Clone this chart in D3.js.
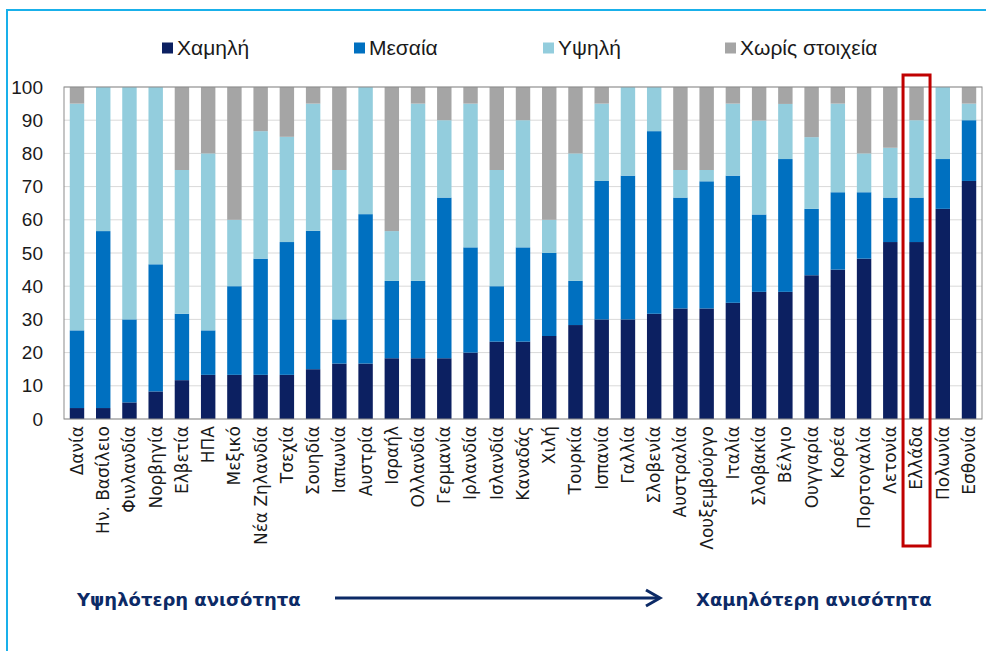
<!DOCTYPE html>
<html>
<head>
<meta charset="utf-8">
<script src="https://cdn.jsdelivr.net/npm/d3@7"></script>
<style>
  body { margin: 0; background: #fff; }
  svg { display: block; }
</style>
</head>
<body>
<div class="container"></div>
<script>
// categories
const countries = ["Δανία", "Ην. Βασίλειο", "Φινλανδία", "Νορβηγία", "Ελβετία", "ΗΠΑ", "Μεξικό",
  "Νέα Ζηλανδία", "Τσεχία", "Σουηδία", "Ιαπωνία", "Αυστρία", "Ισραήλ", "Ολλανδία", "Γερμανία",
  "Ιρλανδία", "Ισλανδία", "Καναδάς", "Χιλή", "Τουρκία", "Ισπανία", "Γαλλία", "Σλοβενία",
  "Αυστραλία", "Λουξεμβούργο", "Ιταλία", "Σλοβακία", "Βέλγιο", "Ουγγαρία", "Κορέα",
  "Πορτογαλία", "Λετονία", "Ελλάδα", "Πολωνία", "Εσθονία"];
// series values (% of each country)
const low = [3.3, 3.3, 5, 8.3, 11.7, 13.3, 13.3, 13.3, 13.3, 15, 16.7, 16.7, 18.3, 18.3, 18.3,
  20, 23.3, 23.3, 25, 28.3, 30, 30, 31.7, 33.3, 33.3, 35, 38.3, 38.3, 43.3, 45, 48.3, 53.3, 53.3, 63.3, 71.7];
const mid = [23.4, 53.3, 25, 38.3, 20, 13.4, 26.7, 35, 40, 41.7, 13.3, 45, 23.3, 23.3, 48.4,
  31.7, 16.7, 28.4, 25, 13.3, 41.7, 43.3, 55, 33.4, 38.3, 38.3, 23.3, 40, 20, 23.3, 20, 13.4, 13.4, 15, 18.3];
const high = [68.3, 43.4, 70, 53.4, 43.3, 53.3, 20, 38.4, 31.7, 38.3, 45, 38.3, 15, 53.4, 23.3,
  43.3, 35, 38.3, 10, 38.4, 23.3, 26.7, 13.3, 8.3, 3.4, 21.7, 28.3, 16.6, 21.6, 26.7, 11.7, 15, 23.3, 21.7, 5];
const noData = countries.map((c, i) => Math.max(0, +(100 - low[i] - mid[i] - high[i]).toFixed(1)));
const seriesNames = ["Χαμηλή", "Μεσαία", "Υψηλή", "Χωρίς στοιχεία"];
const seriesColors = ["#0c2061", "#0070c0", "#93cddd", "#a5a5a5"];
const yTicks = [0, 10, 20, 30, 40, 50, 60, 70, 80, 90, 100];
const highlight = "Ελλάδα";

const W = 986, H = 651;
const m = { left: 64, right: 4, top: 87, bottom: 232 };
const w = W - m.left - m.right, h = H - m.top - m.bottom;

const svg = d3.select(".container").append("svg")
  .attr("width", W).attr("height", H);

// outer frame
svg.append("path")
  .attr("d", `M7,${H + 2} V10 H${W + 2}`)
  .attr("fill", "none").attr("stroke", "#19b0ea").attr("stroke-width", 2);

const table = countries.map((c, i) => ({ c, low: low[i], mid: mid[i], high: high[i], none: noData[i] }));
const stack = d3.stack().keys(["low", "mid", "high", "none"])(table);

const x = d3.scaleBand().domain(countries).range([0, w]).paddingInner(0.45).paddingOuter(0.22);
const y = d3.scaleLinear().domain([0, 100]).range([h, 0]);

const g = svg.append("g").attr("transform", `translate(${m.left},${m.top})`);

// gridlines
g.append("g").selectAll("line").data(yTicks).join("line")
  .attr("x1", 0).attr("x2", w)
  .attr("y1", d => y(d)).attr("y2", d => y(d))
  .attr("stroke", "#d9d9d9").attr("stroke-width", 1);

// bars
g.append("g").selectAll("g").data(stack).join("g")
  .attr("fill", (d, i) => seriesColors[i])
  .selectAll("rect").data(d => d).join("rect")
  .attr("x", d => x(d.data.c))
  .attr("y", d => y(d[1]))
  .attr("width", x.bandwidth())
  .attr("height", d => Math.max(0, y(d[0]) - y(d[1])));

// plot frame
g.append("rect").attr("width", w).attr("height", h)
  .attr("fill", "none").attr("stroke", "#8c8c8c").attr("stroke-width", 1);

// y axis
const yAxis = g.append("g").call(d3.axisLeft(y).tickValues(yTicks).tickSize(0).tickPadding(21));
yAxis.select(".domain").remove();
yAxis.selectAll("text").attr("font-family", "Liberation Sans, Arial, sans-serif")
  .attr("font-size", 19).attr("fill", "#1a1a1a");

// x axis labels
const xAxis = g.append("g").attr("transform", `translate(0,${h})`)
  .call(d3.axisBottom(x).tickSize(0).tickPadding(0));
xAxis.select(".domain").remove();
xAxis.selectAll("text")
  .attr("transform", "rotate(-90)")
  .attr("x", -7).attr("y", 0).attr("dy", "0.35em")
  .attr("text-anchor", "end")
  .attr("font-family", "DejaVu Sans, sans-serif")
  .attr("font-size", 17).attr("fill", "#1a1a1a");

// highlight box
const hx = x(highlight) + x.bandwidth() / 2;
svg.append("rect")
  .attr("x", m.left + hx - 13.5).attr("y", 75)
  .attr("width", 27).attr("height", 471)
  .attr("fill", "none").attr("stroke", "#c00000").attr("stroke-width", 3);

// legend
const lx = [162, 354, 543, 725];
const leg = svg.append("g").selectAll("g").data(seriesNames).join("g")
  .attr("transform", (d, i) => `translate(${lx[i]},48)`);
leg.append("rect").attr("x", 0).attr("y", -5.5).attr("width", 11).attr("height", 11)
  .attr("fill", (d, i) => seriesColors[i]);
leg.append("text").attr("x", 15).attr("dy", "0.35em")
  .attr("font-family", "Liberation Sans, Arial, sans-serif")
  .attr("font-size", 21).attr("fill", "#1a1a1a")
  .text(d => d);

// bottom annotation
const navy = "#0c2a66";
svg.append("text").attr("x", 77).attr("y", 600).attr("dy", "0.35em")
  .attr("font-family", "DejaVu Sans, sans-serif").attr("font-weight", "bold")
  .attr("font-size", 18).attr("fill", navy).text("Υψηλότερη ανισότητα");
svg.append("text").attr("x", 696).attr("y", 600).attr("dy", "0.35em")
  .attr("font-family", "DejaVu Sans, sans-serif").attr("font-weight", "bold")
  .attr("font-size", 18).attr("fill", navy).text("Χαμηλότερη ανισότητα");
svg.append("line").attr("x1", 335).attr("x2", 658).attr("y1", 598).attr("y2", 598)
  .attr("stroke", navy).attr("stroke-width", 3);
svg.append("path").attr("d", "M646,590 L660,598 L646,606")
  .attr("fill", "none").attr("stroke", navy).attr("stroke-width", 3);
</script>
</body>
</html>
